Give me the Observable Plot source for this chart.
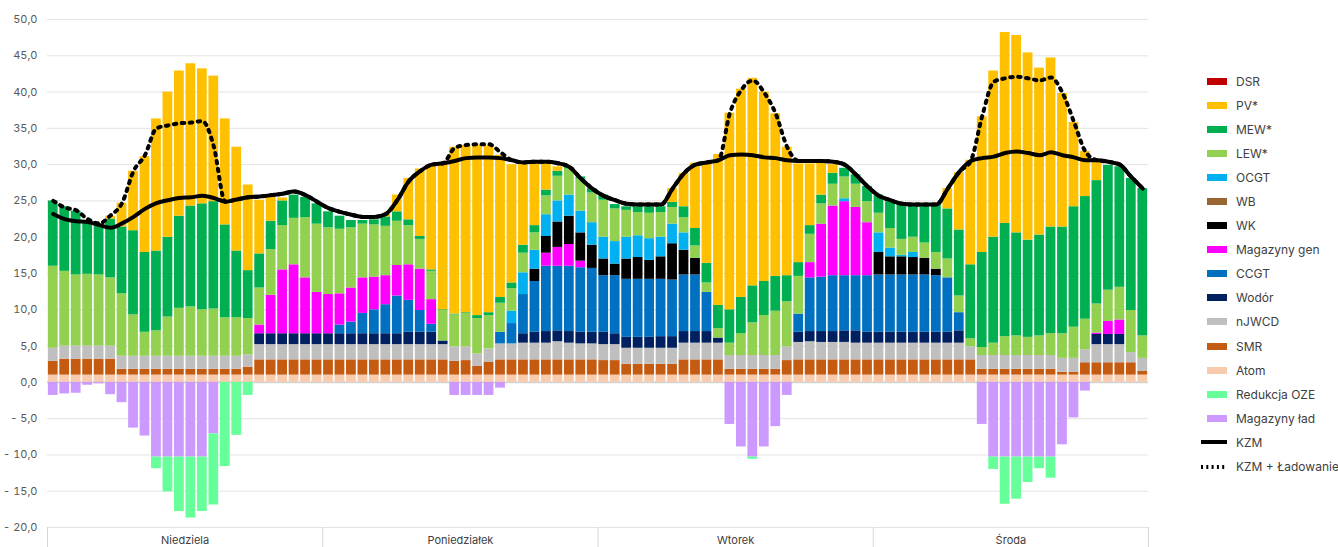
<!DOCTYPE html>
<html>
<head>
<meta charset="utf-8">
<script src="https://cdn.jsdelivr.net/npm/d3@7"></script>
<script src="https://cdn.jsdelivr.net/npm/@observablehq/plot@0.6"></script>
<style>
  body { margin: 0; background: #fff; font-family: Inter, "Noto Sans", sans-serif; }
  #wrap { position: relative; width: 1338px; height: 547px; }
  #chart { position: absolute; left: 0; top: 0; }
  #legend { position: absolute; left: 1201px; top: 69px; font-size: 12px; color: #404040; }
  .row { height: 24.1px; display: flex; align-items: center; white-space: nowrap; }
  .sw { width: 20px; height: 7px; margin-left: 6px; margin-right: 9px; }
  .ln { width: 26px; height: 4px; margin-right: 9px; display: block; }
</style>
</head>
<body>
<div id="wrap"><div id="chart"></div><div id="legend"></div></div>
<script>
const days = ["Niedziela", "Poniedziałek", "Wtorek", "Środa"];
const seriesNames = ["Atom", "SMR", "nJWCD", "Wodór", "CCGT", "Magazyny gen", "WK", "WB", "OCGT", "LEW*", "MEW*", "PV*", "DSR", "Magazyny ład", "Redukcja OZE"];
const seriesColors = ["#F8CBAD", "#C55A11", "#BFBFBF", "#002060", "#0070C0", "#FF00FF", "#000000", "#996633", "#00B0F0", "#92D050", "#00B050", "#FFC000", "#C00000", "#CC99FF", "#66FF99"];
const legendOrder = ["DSR", "PV*", "MEW*", "LEW*", "OCGT", "WB", "WK", "Magazyny gen", "CCGT", "Wodór", "nJWCD", "SMR", "Atom", "Redukcja OZE", "Magazyny ład"];

const atom = [
1.0,1.0,1.0,1.0,1.0,1.0,1.0,1.0,1.0,1.0,1.0,1.0,1.0,1.0,1.0,1.0,1.0,1.0,1.0,1.0,1.0,1.0,1.0,1.0,
1.0,1.0,1.0,1.0,1.0,1.0,1.0,1.0,1.0,1.0,1.0,1.0,1.0,1.0,1.0,1.0,1.0,1.0,1.0,1.0,1.0,1.0,1.0,1.0,
1.0,1.0,1.0,1.0,1.0,1.0,1.0,1.0,1.0,1.0,1.0,1.0,1.0,1.0,1.0,1.0,1.0,1.0,1.0,1.0,1.0,1.0,1.0,1.0,
1.0,1.0,1.0,1.0,1.0,1.0,1.0,1.0,1.0,1.0,1.0,1.0,1.0,1.0,1.0,1.0,1.0,1.0,1.0,1.0,1.0,1.0,1.0,1.0];
const smr = [
1.9,2.2,2.2,2.2,2.2,2.2,0.8,0.8,0.8,0.8,0.8,0.8,0.8,0.8,0.8,0.8,0.8,1.1,2.1,2.1,2.1,2.1,2.1,2.1,
2.1,2.1,2.1,2.1,2.1,2.1,2.1,2.1,2.1,2.1,2.1,1.9,2.0,1.2,1.8,2.1,2.1,2.1,2.1,2.1,2.1,2.1,2.1,2.1,
2.0,2.0,1.5,1.5,1.5,1.5,1.5,2.1,2.1,2.1,2.1,0.8,0.8,0.8,0.8,0.8,2.0,2.1,2.1,2.1,2.1,2.1,2.1,2.1,
2.1,2.1,2.1,2.1,2.1,2.1,2.1,2.1,2.1,0.8,0.8,0.8,0.8,0.8,0.8,0.8,0.4,0.4,1.7,1.7,1.7,1.7,1.7,0.5];
const njwcd = [
1.8,1.8,1.8,1.8,1.8,1.8,1.8,1.8,1.8,1.8,1.8,1.8,1.8,1.8,1.8,1.8,1.8,1.7,2.1,2.1,2.1,2.1,2.1,2.1,
2.1,2.1,2.1,2.1,2.1,2.1,2.1,2.1,2.1,2.1,2.1,2.0,1.9,1.7,1.8,2.2,2.2,2.3,2.3,2.3,2.5,2.3,2.2,2.2,
2.2,2.2,2.2,2.2,2.2,2.2,2.2,2.3,2.3,2.3,2.3,1.9,1.9,1.9,1.9,1.9,1.9,2.4,2.5,2.4,2.4,2.4,2.3,2.3,
2.3,2.3,2.3,2.3,2.3,2.3,2.3,2.3,1.8,1.9,1.9,1.9,1.9,1.9,1.9,1.9,1.9,1.9,1.8,2.5,2.5,2.5,1.4,1.8];
const wodor = [
0,0,0,0,0,0,0,0,0,0,0,0,0,0,0,0,0,0,1.5,1.5,1.5,1.5,1.5,1.5,
1.5,1.5,1.5,1.5,1.5,1.5,1.5,1.7,1.7,1.7,0.5,0,0,0,0,0,0,1.3,1.5,1.6,1.5,1.6,1.6,1.6,
1.7,1.5,1.5,1.5,1.5,1.6,1.6,1.6,1.6,1.6,0.7,0,0,0,0,0,0,1.4,1.4,1.5,1.5,1.6,1.7,1.5,
1.5,1.5,1.5,1.5,1.5,1.5,1.5,1.7,0,0,0,0,0,0,0,0,0,0,0,1.4,1.4,1.4,0,0];
const ccgt = [
0,0,0,0,0,0,0,0,0,0,0,0,0,0,0,0,0,0,0,0,0,0,0,0,
0,1.2,1.6,2.8,3.3,4.0,5.2,4.4,3.0,1.1,0,0,0,0,0,1.6,2.8,5.4,7.0,9.0,8.9,9.0,8.9,8.8,
7.8,8.0,8.0,8.0,8.0,7.9,7.8,7.8,7.8,5.4,0,0,0,0,0,0,0,2.5,7.4,7.5,7.7,7.6,7.6,7.8,
7.9,7.9,7.9,7.9,7.9,7.8,7.5,2.5,0,0,0,0,0,0,0,0,0,0,0,0,0,0,0,0];
const magGen = [
0,0,0,0,0,0,0,0,0,0,0,0,0,0,0,0,0,0,1.2,5.3,8.8,9.5,7.7,5.7,
5.4,4.3,4.7,4.9,4.5,4.0,4.2,4.9,5.7,3.4,0,0,0,0,0,0,0,0,0,1.8,2.6,3.0,0.9,0,
0,0,0,0,0,0,0,0,0,0,0,0,0,0,0,0,0,0,2.1,7.3,9.6,10.2,9.4,7.3,
0,0,0,0,0,0,0,0,0,0,0,0,0,0,0,0,0,0,0,0.2,1.8,2.0,0,0];
const wk = [
0,0,0,0,0,0,0,0,0,0,0,0,0,0,0,0,0,0,0,0,0,0,0,0,
0,0,0,0,0,0,0,0,0,0,0,0,0,0,0,0,0,0,1.7,2.3,3.5,3.9,3.9,3.2,
2.3,1.6,2.8,3.0,2.6,3.1,5.0,3.4,2.3,0,0,0,0,0,0,0,0,0,0,0,0,0,0,0,
3.1,2.5,2.5,2.4,2.3,0.9,0,0,0,0,0,0,0,0,0,0,0,0,0,0,0,0,0,0];
const wb = [
0,0,0,0,0,0,0,0,0,0,0,0,0,0,0,0,0,0,0,0,0,0,0,0,
0,0,0,0,0,0,0,0,0,0,0,0,0,0,0,0,0,0,0,0,0,0,0,0,
0,0,0,0,0,0,0,0,0,0,0,0,0,0,0,0,0,0,0,0,0,0,0,0,
0,0,0,0,0,0,0,0,0,0,0,0,0,0,0,0,0,0,0,0,0,0,0,0];
const ocgt = [
0,0,0,0,0,0,0,0,0,0,0,0,0,0,0,0,0,0,0,0,0,0,0,0,
0,0,0,0,0,0,0,0,0,0,0,0,0,0,0,0,1.7,3.0,2.6,3.0,2.9,2.9,3.0,3.1,
3.0,3.1,3.0,3.0,3.0,2.7,2.7,2.4,0,0,0,0,0,0,0,0,0,0,0,0,0,0.4,0,0,
2.7,1.2,0.2,0.7,0,0,0,0,0,0,0,0,0,0,0,0,0,0,0,0,0,0,0,0];
const lew = [
11.3,10.3,9.8,9.9,9.8,9.4,8.6,5.7,3.3,3.5,5.4,6.6,6.8,6.4,6.5,5.3,5.3,5.0,5.1,6.3,6.1,6.4,8.3,9.4,
9.2,8.9,8.3,7.4,7.2,6.8,6.1,5.4,4.1,3.9,4.2,4.4,4.6,4.9,4.6,4.0,3.1,2.7,2.4,2.6,3.4,3.6,4.4,4.1,
5.1,4.5,3.7,3.2,3.5,3.4,2.3,2.1,1.7,1.3,1.3,1.7,3.0,4.5,5.5,6.1,6.2,5.2,3.9,2.8,3.0,3.0,3.2,2.9,
2.7,2.7,2.2,2.1,2.1,2.3,2.6,2.3,1.1,1.1,1.7,2.6,2.7,2.5,2.7,3.0,3.4,4.3,4.2,4.0,4.3,4.5,5.8,3.1];
const mew = [
9.0,8.9,8.8,7.0,7.0,8.1,9.2,11.6,11.0,11.0,11.0,12.7,13.9,14.6,14.8,12.8,9.2,6.6,4.7,3.9,3.4,3.2,2.8,2.8,
2.2,1.8,1.0,0.5,0.7,1.3,1.3,0.8,0.4,0.2,0.1,0.1,0.1,0.4,0.4,0.8,0.8,1.1,1.0,0.8,0.7,0.2,0.3,0.6,
0.7,0.6,0.5,0.8,0.9,0.8,0.7,1.5,2.4,2.7,3.2,4.6,5.0,5.1,4.7,4.8,3.6,1.9,1.2,1.2,1.5,1.2,1.3,2.1,
2.5,3.7,4.8,4.5,5.1,6.6,6.9,9.1,10.2,13.1,14.6,15.6,14.2,13.4,13.9,14.7,14.7,16.6,16.9,17.0,17.2,16.6,18.2,20.3];
const pv = [
0,0,0,0,0,0.4,3.3,8.2,13.2,18.2,20.0,20.0,19.6,18.6,17.3,14.6,14.3,11.8,7.4,3.3,0.4,0,0,0,
0,0,0,0,0,0.3,2.3,5.7,9.3,14.5,20.1,23.0,23.0,23.5,23.0,19.6,16.3,11.1,8.5,3.6,0.6,0,0,0,
0,0,0,0,0,0,1.9,4.6,9.0,14.0,20.8,27.1,28.7,28.6,26.1,22.4,17.7,13.6,8.5,4.4,1.2,0,0,0,
0,0,0,0,0,0,2.8,7.9,14.4,18.7,22.9,26.3,27.2,25.8,23.0,23.3,18.4,11.6,6.2,2.8,0,0,0,0];
const dsr = [
0,0,0,0,0,0,0,0,0,0,0,0,0,0,0,0,0,0,0,0,0,0,0,0,
0,0,0,0,0,0,0,0,0,0,0,0,0,0,0,0,0,0,0,0,0,0,0,0,
0,0,0,0,0,0,0,0,0,0,0,0,0,0,0,0,0,0,0,0,0,0,0,0,
0,0,0,0,0,0,0,0,0,0,0,0,0,0,0,0,0,0,0,0,0,0,0,0];
const magLad = [
-1.8,-1.6,-1.5,-0.4,-0.2,-1.7,-2.8,-6.3,-7.4,-10.3,-10.3,-10.3,-10.3,-10.3,-7.1,0,0,0,0,0,0,0,0,0,
0,0,0,0,0,0,0,0,0,0,0,-1.8,-1.8,-1.8,-1.8,-0.8,0,0,0,0,0,0,0,0,
0,0,0,0,0,0,0,0,0,0,0,-5.8,-8.9,-10.3,-8.9,-6.1,-1.8,0,0,0,0,0,0,0,
0,0,0,0,0,0,0,0,0,-5.8,-10.3,-10.3,-10.3,-10.3,-10.3,-10.3,-8.6,-4.9,-1.2,0,0,0,0,0];
const redukcja = [
0,0,0,0,0,0,0,0,0,-1.6,-4.8,-7.5,-8.4,-7.5,-9.8,-11.6,-7.3,-1.8,0,0,0,0,0,0,
0,0,0,0,0,0,0,0,0,0,0,0,0,0,0,0,0,0,0,0,0,0,0,0,
0,0,0,0,0,0,0,0,0,0,0,0,0,-0.3,0,0,0,0,0,0,0,0,0,0,
0,0,0,0,0,0,0,0,0,0,-1.7,-6.5,-5.8,-3.5,-1.6,-2.9,0,0,0,0,0,0,0,0];
const kzm = [
23.2,22.5,22.2,22.1,21.7,21.3,21.9,22.8,23.9,24.7,25.1,25.4,25.5,25.7,25.4,24.9,25.2,25.5,25.6,25.8,26.0,26.3,25.8,24.9,
24.0,23.5,23.1,22.8,22.8,23.2,25.1,27.7,29.1,30.0,30.2,30.5,30.9,31.0,31.0,30.9,30.6,30.3,30.4,30.4,30.2,29.7,28.1,26.7,
25.7,25.1,24.6,24.5,24.5,24.5,26.7,28.8,30.0,30.3,30.6,31.3,31.4,31.3,31.0,30.9,30.6,30.5,30.5,30.5,30.4,30.0,28.6,27.0,
25.7,25.1,24.6,24.5,24.5,24.5,26.7,29.0,30.5,30.9,31.1,31.6,31.8,31.6,31.3,31.7,31.3,31.0,30.6,30.6,30.4,30.0,28.3,26.7];
const kzmLad = [
25.0,24.1,23.7,22.5,21.9,23.0,24.7,29.1,31.3,35.0,35.4,35.7,35.8,36.0,32.5,24.9,25.2,25.5,25.6,25.8,26.0,26.3,25.8,24.9,
24.0,23.5,23.1,22.8,22.8,23.2,25.1,27.7,29.1,30.0,30.2,32.3,32.7,32.8,32.8,31.7,30.6,30.3,30.4,30.4,30.2,29.7,28.1,26.7,
25.7,25.1,24.6,24.5,24.5,24.5,26.7,28.8,30.0,30.3,30.6,37.1,40.3,41.6,39.9,37.0,32.4,30.5,30.5,30.5,30.4,30.0,28.6,27.0,
25.7,25.1,24.6,24.5,24.5,24.5,26.7,29.0,30.5,36.7,41.4,41.9,42.1,41.9,41.6,42.0,39.9,35.9,31.8,30.6,30.4,30.0,28.3,26.7];

const yTicks = [-20,-15,-10,-5,0,5,10,15,20,25,30,35,40,45,50];
const dayStarts = [0, 24, 48, 72, 96];
const dayMids = [12, 36, 60, 84];

const seriesData = [atom, smr, njwcd, wodor, ccgt, magGen, wk, wb, ocgt, lew, mew, pv, dsr, magLad, redukcja];
const rows = [];
seriesData.forEach((arr, s) => arr.forEach((v, h) => { if (v !== 0) rows.push({hour: h, series: seriesNames[s], value: v}); }));
const kzmRows = kzm.map((v, h) => ({hour: h, value: v}));
const kzmLadRows = kzmLad.map((v, h) => ({hour: h, value: v}));

const fmt = d => (d < 0 ? "- " : "") + Math.abs(d).toFixed(1).replace(".", ",");

const chart = Plot.plot({
  width: 1190, height: 547,
  marginLeft: 47, marginRight: 42, marginTop: 19, marginBottom: 20,
  x: {type: "linear", domain: [0, 96], axis: null},
  y: {domain: [-20, 50], axis: null},
  color: {domain: seriesNames, range: seriesColors},
  style: {fontFamily: "Inter, 'Noto Sans', sans-serif", fontSize: "11px", color: "#595959", background: "white"},
  marks: [
    Plot.gridY(yTicks, {stroke: "#e3e3e3", strokeOpacity: 1}),
    Plot.axisY(yTicks, {label: null, tickSize: 0, tickPadding: 10, tickFormat: fmt, fill: "#595959"}),
    Plot.axisX(dayStarts, {label: null, tickSize: 20, tickFormat: () => "", stroke: "#d6d6d6"}),
    Plot.axisX(dayMids, {label: null, tickSize: 0, tickPadding: 9, tickFormat: d => days[(d - 12) / 24], fill: "#404040"}),
    Plot.ruleY([0], {stroke: "#d4d4d4", strokeWidth: 2}),
    Plot.rectY(rows, {x1: "hour", x2: d => d.hour + 1, y: "value", fill: "series", insetLeft: 0.85, insetRight: 0.85}),
    Plot.line(kzmRows, {x: d => d.hour + 0.5, y: "value", stroke: "black", strokeWidth: 4, curve: "monotone-x"}),
    Plot.line(kzmLadRows, {x: d => d.hour + 0.5, y: "value", stroke: "black", strokeWidth: 4, strokeDasharray: "2.5,5.5", curve: "monotone-x"})
  ]
});
document.getElementById("chart").appendChild(chart);

const legend = document.getElementById("legend");
legendOrder.forEach(name => {
  const color = seriesColors[seriesNames.indexOf(name)];
  const row = document.createElement("div");
  row.className = "row";
  row.innerHTML = `<span class="sw" style="background:${color}"></span><span>${name}</span>`;
  legend.appendChild(row);
});
[["KZM", ""], ["KZM + Ładowanie", "2,3.3"]].forEach(([name, dash]) => {
  const row = document.createElement("div");
  row.className = "row";
  row.innerHTML = `<svg class="ln" width="26" height="4"><line x1="0" y1="2" x2="26" y2="2" stroke="black" stroke-width="4" stroke-dasharray="${dash}"/></svg><span>${name}</span>`;
  legend.appendChild(row);
});
</script>
</body>
</html>
